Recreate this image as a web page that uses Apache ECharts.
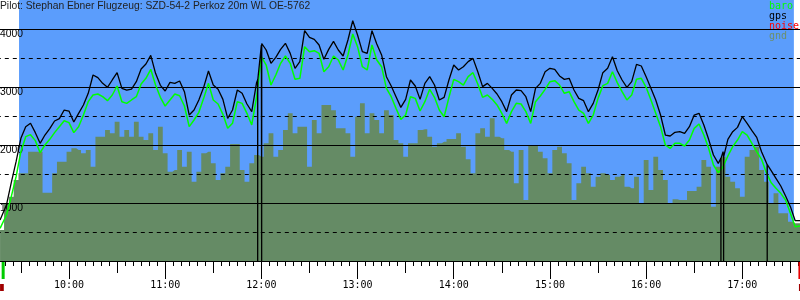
<!DOCTYPE html>
<html><head><meta charset="utf-8">
<script src="https://cdn.jsdelivr.net/npm/echarts@6/dist/echarts.min.js"></script>
<style>html,body{margin:0;padding:0;background:#fff}#c{width:800px;height:300px}</style>
</head><body><div id="c"></div>
<script>
const titleText = 'Pilot: Stephan Ebner Flugzeug: SZD-54-2 Perkoz 20m WL OE-5762';

const times = [
'09:17','09:18','09:21','09:24','09:27','09:30','09:33','09:36','09:39','09:42','09:45','09:48','09:51','09:54','09:57',
'10:00','10:03','10:06','10:09','10:12','10:15','10:18','10:21','10:24','10:27','10:30','10:33','10:36','10:39','10:42','10:45','10:48','10:51','10:54','10:57',
'11:00','11:03','11:06','11:09','11:12','11:15','11:18','11:21','11:24','11:27','11:30','11:33','11:36','11:39','11:42','11:45','11:48','11:51','11:54','11:57',
'12:00','12:03','12:06','12:09','12:12','12:15','12:18','12:21','12:24','12:27','12:30','12:33','12:36','12:39','12:42','12:45','12:48','12:51','12:54','12:57',
'13:00','13:03','13:06','13:09','13:12','13:15','13:18','13:21','13:24','13:27','13:30','13:33','13:36','13:39','13:42','13:45','13:48','13:51','13:54','13:57',
'14:00','14:03','14:06','14:09','14:12','14:15','14:18','14:21','14:24','14:27','14:30','14:33','14:36','14:39','14:42','14:45','14:48','14:51','14:54','14:57',
'15:00','15:03','15:06','15:09','15:12','15:15','15:18','15:21','15:24','15:27','15:30','15:33','15:36','15:39','15:42','15:45','15:48','15:51','15:54','15:57',
'16:00','16:03','16:06','16:09','16:12','16:15','16:18','16:21','16:24','16:27','16:30','16:33','16:36','16:39','16:42','16:45','16:48','16:51','16:54','16:57',
'17:00','17:03','17:06','17:09','17:12','17:15','17:18','17:21','17:24','17:27','17:30','17:33',
'17:36'
];

const gps = [707,
707,966,1351,1713,2115,2316,2374,2213,2029,2172,2282,2414,2454,2603,
2586,2396,2546,2690,2891,3207,3161,3063,2994,3121,3247,2977,2948,2965,3092,3310,3396,3546,3236,3029,
2931,3080,3063,3103,2919,2517,2603,2776,2994,3276,3034,2960,2787,2460,2603,2948,2891,2707,2575,3075,
3724,3638,3408,3511,3649,3753,3580,3322,3437,3971,3856,3822,3724,3477,3649,3787,3638,3534,3810,4143,
3896,3609,3580,3971,3741,3552,3178,3017,2833,2649,2787,3121,3017,2787,3063,3178,3034,2776,2822,3121,
3379,3293,3350,3437,3494,3264,3006,3063,2977,2879,2747,2575,2862,2948,2937,2833,2575,2977,3063,3264,
3322,3304,3190,3132,3149,2948,2805,2764,2575,2718,2948,3247,3322,3523,3281,3121,2994,3092,3391,3362,
3178,2977,2776,2517,2172,2155,2218,2230,2201,2316,2517,2546,2345,2098,1828,1684,1885,2098,2230,2304,
2488,2373,2247,2132,1885,1695,1557,1425,1293,1121,937,695,
695];

const baro = [563,
563,793,1109,1454,1885,2144,2178,2075,1868,2000,2098,2213,2316,2419,
2385,2213,2316,2517,2747,2862,2879,2833,2764,2862,3017,2747,2718,2776,2833,3052,3149,3305,3034,2822,
2672,2776,2879,2850,2672,2316,2431,2563,2804,3063,2776,2707,2529,2287,2374,2747,2718,2546,2345,2822,
3523,3379,3034,3207,3408,3534,3408,3132,3149,3695,3609,3626,3580,3264,3350,3534,3465,3293,3552,3914,
3695,3350,3293,3724,3465,3350,2977,2833,2632,2442,2517,2833,2804,2586,2747,2960,2822,2603,2488,2822,
3132,3092,3034,3178,3247,3052,2822,2862,2787,2690,2546,2373,2575,2718,2707,2575,2373,2747,2845,2960,
3092,3109,3034,2891,2919,2747,2603,2546,2373,2517,2804,3023,3063,3264,3075,2919,2776,2862,3132,3149,
2994,2776,2546,2316,2000,1942,2029,2029,1983,2086,2287,2362,2172,1942,1655,1523,1626,1810,1971,2086,
2230,2172,2029,1885,1753,1523,1350,1253,1167,1052,822,592,
603];

const gnd = [534,
534,994,1109,1397,1511,1511,1885,1885,1885,1178,1178,1511,1713,1713,
1885,1942,1914,1856,1914,1626,2144,2144,2259,2201,2402,2144,2259,2144,2402,2144,2086,2201,1914,2316,
1856,1540,1569,1914,1626,1885,1368,1540,1856,1885,1684,1397,1511,1626,2017,2017,1569,1368,1684,1828,
1799,2029,2201,1799,1914,2259,2546,2201,2316,2316,1626,2431,2201,2690,2690,2600,2287,2287,2201,1799,
2489,2718,2201,2546,2431,2201,2600,2517,2086,2029,1799,2029,2029,2259,2270,2144,1971,2029,2057,2103,
2103,2201,1971,1753,1511,2201,2287,2144,2460,2144,2115,1914,1885,1339,1914,1052,2000,2000,1885,1770,
1511,1914,1971,1856,1684,1052,1339,1626,1511,1282,1454,1511,1483,1397,1454,1483,1282,1253,1454,994,
1742,1224,1799,1569,1397,994,1063,1052,1052,1207,1207,1282,1742,1626,937,1626,1799,1454,1368,1253,
1109,1799,1914,1971,1569,1368,994,1167,822,822,678,649,
649];

// GPS dropouts (gps reads 0 for an instant): time and altitude of the line where it drops
const gpsDropTimes = ['11:57:42','12:00:11','16:46:40','16:48:20','17:15:32'];
const gpsDropTop   = [3120, 3750, 1770, 1800, 1660];

const skySpan = ['09:28:50', '17:32:10'];
const takeoff = '09:18';
const landing = '17:35';
const noiseSpans = [['09:17', '09:19:20'], ['17:35:20', '17:36']];

function toMin(s) { const p = s.split(':').map(Number); return p[0] * 60 + p[1] + (p[2] || 0) / 60; }
function fmt(m) { const h = Math.floor(m / 60), mm = Math.round(m % 60); return (h < 10 ? '0' : '') + h + ':' + (mm < 10 ? '0' : '') + mm; }

const gpsData = times.map((t, i) => [toMin(t), gps[i]]);
gpsDropTimes.forEach((t, i) => {
  const m = toMin(t);
  gpsData.push([m - 0.05, gpsDropTop[i]], [m, 0], [m + 0.05, gpsDropTop[i]]);
});
gpsData.sort((a, b) => a[0] - b[0]);
const baroData = times.map((t, i) => [toMin(t), baro[i]]);
const gndData = times.map((t, i) => [toMin(t), gnd[i]]);

const GRID_LEFT = -27.2, GRID_RIGHT = -38.5;
const SKY = '#5b9dfc', GROUND = '#658b65';

const chart = echarts.init(document.getElementById('c'), null, { renderer: 'canvas' });
chart.setOption({
  animation: false,
  backgroundColor: '#ffffff',
  title: { text: titleText, left: 0, top: 1, padding: 0,
    textStyle: { fontFamily: 'Liberation Sans', fontSize: 10.3, fontWeight: 'normal', color: '#222' } },
  legend: {
    orient: 'vertical', left: 764, top: 1, padding: 0, itemGap: 0, itemWidth: 0, itemHeight: 10,
    icon: 'none', selectedMode: false,
    textStyle: { fontFamily: 'DejaVu Sans Mono', fontSize: 10, lineHeight: 10 },
    data: [
      { name: 'baro', textStyle: { color: '#00ff00' } },
      { name: 'gps', textStyle: { color: '#000000' } },
      { name: 'noise', textStyle: { color: '#ff0000' } },
      { name: 'gnd', textStyle: { color: '#6d8f6d' } }
    ]
  },
  grid: { left: GRID_LEFT, right: GRID_RIGHT, top: 0, bottom: 39, containLabel: false, outerBoundsMode: 'none' },
  xAxis: [
    { type: 'value', min: 540, max: 1080, interval: 60, position: 'bottom', z: 7,
      axisLine: { show: true, onZero: false, lineStyle: { color: '#000', width: 1 } },
      axisTick: { show: true, length: 18, lineStyle: { color: '#000', width: 1 } },
      minorTick: { show: true, splitNumber: 12, length: 5, lineStyle: { color: '#000', width: 1 } },
      axisLabel: { margin: 19, color: '#000', fontFamily: 'DejaVu Sans Mono', fontSize: 10, formatter: v => fmt(v) },
      splitLine: { show: false }, minorSplitLine: { show: false } },
    { type: 'value', min: 540, max: 1080, interval: 30, position: 'bottom', z: 7,
      axisLine: { show: false }, axisLabel: { show: false }, splitLine: { show: false },
      axisTick: { show: true, length: 12, lineStyle: { color: '#000', width: 1 } } }
  ],
  yAxis: [
    { type: 'value', min: 0, max: 4500, interval: 1000, position: 'left', offset: GRID_LEFT, z: 4,
      axisLine: { show: false }, axisTick: { show: false },
      splitLine: { show: true, showMinLine: false, showMaxLine: false, lineStyle: { color: '#000', width: 1, type: 'solid' } },
      axisLabel: { inside: true, margin: 0, align: 'left', verticalAlign: 'top', color: '#000',
        fontFamily: 'Liberation Sans', fontSize: 10.3,
        formatter: v => (v > 0 && v <= 4000 && v % 1000 === 0) ? String(v) : '' } },
    { type: 'value', min: 0, max: 4500, interval: 500, position: 'left', offset: GRID_LEFT, z: 3,
      axisLine: { show: false }, axisTick: { show: false }, axisLabel: { show: false },
      splitLine: { show: true, showMinLine: false, showMaxLine: false, lineStyle: { color: '#000', width: 1, type: [4, 4] } } }
  ],
  series: [
    { name: 'gnd', type: 'line', data: gndData, step: 'middle', symbol: 'none', z: 2, silent: true,
      color: '#6d8f6d', lineStyle: { width: 0 }, areaStyle: { color: GROUND, opacity: 1 },
      markArea: { silent: true, z: 1, itemStyle: { color: SKY, opacity: 1, borderWidth: 0 },
        data: [[{ xAxis: toMin(skySpan[0]), yAxis: 0 }, { xAxis: toMin(skySpan[1]), yAxis: 4500 }]] } },
    { name: 'noise', type: 'line', data: [], color: '#ff0000', symbol: 'none' },
    { name: 'baro', type: 'line', data: baroData, symbol: 'none', z: 5, silent: true,
      color: '#00ff00', lineStyle: { color: '#00ff00', width: 1.5 } },
    { name: 'gps', type: 'line', data: gpsData, symbol: 'none', z: 6, silent: true,
      color: '#000000', lineStyle: { color: '#000000', width: 1.3 } }
  ]
});

const xp = t => chart.convertToPixel({ xAxisIndex: 0 }, toMin(t));
const y0 = chart.convertToPixel({ yAxisIndex: 0 }, 0);
const graphics = [
  { type: 'rect', z: 10, shape: { x: xp(takeoff), y: y0 + 1, width: 3, height: 17 }, style: { fill: '#00cc00' } },
  { type: 'rect', z: 10, shape: { x: xp(landing), y: y0 + 1, width: 3, height: 17 }, style: { fill: '#e80000' } }
];
noiseSpans.forEach(([a, b]) => {
  graphics.push({ type: 'rect', z: 10, shape: { x: xp(a), y: y0 + 23, width: Math.max(1, xp(b) - xp(a)), height: 7 }, style: { fill: '#a00000' } });
});
chart.setOption({ graphic: graphics });
</script>
</body></html>
